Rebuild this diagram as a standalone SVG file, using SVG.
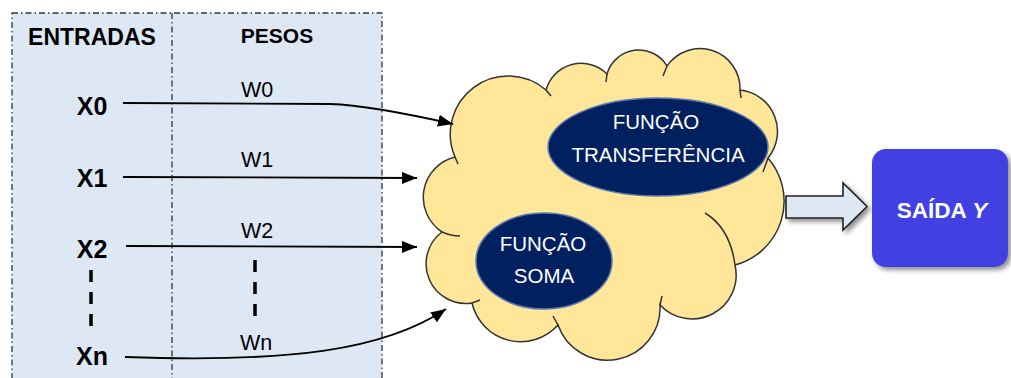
<svg xmlns="http://www.w3.org/2000/svg" width="1011" height="378" viewBox="0 0 1011 378">
<style>
.hdr{font-family:"Liberation Sans",Arial,sans-serif;font-weight:bold;fill:#000;text-anchor:middle}
.x{font-family:"Liberation Sans",Arial,sans-serif;font-weight:bold;font-size:25px;fill:#000;text-anchor:middle}
.w{font-family:"Liberation Sans",Arial,sans-serif;font-size:21.5px;fill:#000;text-anchor:middle}
.wt{font-family:"Liberation Sans",Arial,sans-serif;font-size:20.5px;fill:#fff;text-anchor:middle}
.conn{fill:none;stroke:#000;stroke-width:1.8}
.dash{stroke:#000;stroke-width:3.5;stroke-dasharray:12 10}
.tick{fill:none;stroke:#333;stroke-width:1.5}
</style>
<defs>
<marker id="ah" markerUnits="userSpaceOnUse" markerWidth="16" markerHeight="12" refX="15" refY="6" orient="auto">
<path d="M0,0 L15,6 L0,12 Z" fill="#000"/>
</marker>
<filter id="sh" x="-20%" y="-20%" width="140%" height="140%">
<feGaussianBlur in="SourceAlpha" stdDeviation="2.5"/>
<feOffset dx="3" dy="3" result="b"/>
<feComponentTransfer><feFuncA type="linear" slope="0.45"/></feComponentTransfer>
<feMerge><feMergeNode/><feMergeNode in="SourceGraphic"/></feMerge>
</filter>
</defs>

<g id="panel">
<rect x="12" y="13" width="370" height="380" fill="#dde8f4" stroke="#333" stroke-width="1.3" stroke-dasharray="6 3 1.5 3"/>
<line x1="172" y1="13" x2="172" y2="378" stroke="#333" stroke-width="1.3" stroke-dasharray="6 3 1.5 3"/>
<text class="hdr" x="92" y="45" font-size="23">ENTRADAS</text>
<text class="hdr" x="277" y="43" font-size="21">PESOS</text>
</g>

<g id="inputs">
<text class="x" x="92" y="115">X0</text>
<text class="x" x="92" y="187">X1</text>
<text class="x" x="92" y="258">X2</text>
<text class="x" x="92" y="365">Xn</text>
<line class="dash" x1="91" y1="270" x2="91" y2="332"/>
</g>

<g id="weights">
<text class="w" x="257" y="97">W0</text>
<text class="w" x="257" y="167">W1</text>
<text class="w" x="257" y="238">W2</text>
<text class="w" x="256" y="350">Wn</text>
<line class="dash" x1="255" y1="260" x2="255" y2="323" stroke-dasharray="13 9"/>
</g>

<g id="cloud">
<path d="M442,232 A41.5,41.5 0 0 1 455,157 A58,58 0 0 1 546,90 A36.6,36.6 0 0 1 607,74 A33,33 0 0 1 667,66 A40,40 0 0 1 740,90 A41.7,41.7 0 0 1 768,158 A66,66 0 0 1 735,265 A44,44 0 0 1 660,305 A52.5,52.5 0 0 1 558,325 A50,50 0 0 1 472,303 A39.7,39.7 0 0 1 442,232 Z" fill="#ffe699" stroke="#333" stroke-width="1.5"/>
<path class="tick" d="M442,232 Q451,236 460,236"/>
<path class="tick" d="M455,157 L458,164"/>
<path class="tick" d="M546,90 L551,96"/>
<path class="tick" d="M607,74 L606,82"/>
<path class="tick" d="M667,66 L663,76"/>
<path class="tick" d="M740,90 L741,98"/>
<path class="tick" d="M768,158 L763,172"/>
<path class="tick" d="M735,265 Q730,228 705,213"/>
<path class="tick" d="M660,305 L662,296"/>
<path class="tick" d="M558,325 L553,316"/>
<path class="tick" d="M472,303 L480,300"/>
</g>

<g id="transferencia">
<ellipse cx="658" cy="147" rx="110" ry="49" fill="#002060" stroke="#5a78b0" stroke-width="1.5"/>
<text class="wt" x="656" y="129" font-size="21">FUNÇÃO</text>
<text class="wt" x="658" y="162">TRANSFERÊNCIA</text>
</g>

<g id="soma">
<ellipse cx="544" cy="261" rx="68" ry="48" fill="#002060" stroke="#5a78b0" stroke-width="1.5"/>
<text class="wt" x="543" y="251" font-size="21.5">FUNÇÃO</text>
<text class="wt" x="544" y="283" font-size="21.5">SOMA</text>
</g>

<g id="connectors">
<path class="conn" marker-end="url(#ah)" d="M123,103 L330,104 C360,105 400,112 453,124"/>
<path class="conn" marker-end="url(#ah)" d="M123,177 L417,178"/>
<path class="conn" marker-end="url(#ah)" d="M126,246 L417,247"/>
<path class="conn" marker-end="url(#ah)" d="M125,357 C290,363 385,350 446,309"/>
<path d="M786,196 L843,196 L843,183 L867,206.5 L843,230 L843,218 L786,218 Z" fill="#dde8f4" stroke="#222" stroke-width="1.6" filter="url(#sh)"/>
</g>

<g id="saida">
<rect x="872" y="149" width="136" height="118" rx="14" fill="#4141e3" filter="url(#sh)"/>
<text x="942" y="218" font-family="Liberation Sans,Arial,sans-serif" font-weight="bold" font-size="22.5" fill="#fff" text-anchor="middle">SAÍDA <tspan font-style="italic">Y</tspan></text>
</g>
</svg>
